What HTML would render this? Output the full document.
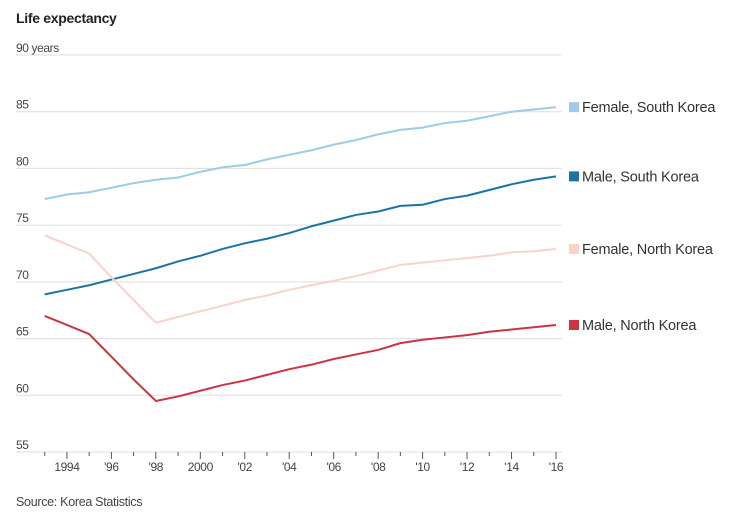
<!DOCTYPE html>
<html><head><meta charset="utf-8"><style>
body{margin:0;background:#fff;font-family:"Liberation Sans",sans-serif;}
svg text{font-family:"Liberation Sans",sans-serif;}
</style></head><body>
<svg id="chart" width="729" height="518" viewBox="0 0 729 518">
<text x="16" y="23" font-size="14" font-weight="bold" fill="#222" letter-spacing="-0.3">Life expectancy</text>
<g id="grid"></g><g id="xaxis"></g><g id="lines"></g><g id="legend"></g>
<text x="16" y="506" font-size="12.5" fill="#444" letter-spacing="-0.3">Source: Korea Statistics</text>
</svg>
<script>
const years=[1993,1994,1995,1996,1997,1998,1999,2000,2001,2002,2003,2004,2005,2006,2007,2008,2009,2010,2011,2012,2013,2014,2015,2016];
const femaleSouth=[77.3,77.7,77.9,78.3,78.7,79.0,79.2,79.7,80.1,80.3,80.8,81.2,81.6,82.1,82.5,83.0,83.4,83.6,84.0,84.2,84.6,85.0,85.2,85.4];
const maleSouth=[68.9,69.3,69.7,70.2,70.7,71.2,71.8,72.3,72.9,73.4,73.8,74.3,74.9,75.4,75.9,76.2,76.7,76.8,77.3,77.6,78.1,78.6,79.0,79.3];
const femaleNorth=[74.1,73.3,72.5,70.4,68.4,66.4,66.9,67.4,67.9,68.4,68.8,69.3,69.7,70.1,70.5,71.0,71.5,71.7,71.9,72.1,72.3,72.6,72.7,72.9];
const maleNorth=[67.0,66.2,65.4,63.4,61.4,59.5,59.9,60.4,60.9,61.3,61.8,62.3,62.7,63.2,63.6,64.0,64.6,64.9,65.1,65.3,65.6,65.8,66.0,66.2];
const yTicks=[55,60,65,70,75,80,85,90];
const yTickLabels=["55","60","65","70","75","80","85","90 years"];
const xTickYears=[1994,1996,1998,2000,2002,2004,2006,2008,2010,2012,2014,2016];
const xTickLabels=["1994","'96","'98","2000","'02","'04","'06","'08","'10","'12","'14","'16"];
const seriesNames=["Female, South Korea","Male, South Korea","Female, North Korea","Male, North Korea"];
const seriesColors=["#9dcbe8","#1a74a8","#f7d3c9","#cb3440"];
const seriesData=[femaleSouth,maleSouth,femaleNorth,maleNorth];
const seriesKeys=["female-south-korea","male-south-korea","female-north-korea","male-north-korea"];

const NS="http://www.w3.org/2000/svg";
const x=v=>44.7+(v-1993)*22.23;
const y=v=>55+(90-v)*11.343;
function mk(tag,parent,attrs){const e=document.createElementNS(NS,tag);for(const k in attrs)e.setAttribute(k,attrs[k]);parent.appendChild(e);return e;}
const grid=document.getElementById('grid');
yTicks.forEach((t,i)=>{
  const l=mk('line',grid,{x1:16,x2:562,y1:y(t),y2:y(t),stroke:'#ddd','stroke-width':1});
  
  
  const tx=mk('text',grid,{x:16,y:y(t)-3,'font-size':12,fill:'#444','letter-spacing':'-0.4'});
  tx.textContent=yTickLabels[i];
  
  
});
const xa=document.getElementById('xaxis');
years.forEach(yr=>{
  const major=xTickYears.includes(yr);
  const tk=mk('line',xa,{x1:x(yr),x2:x(yr),y1:y(55),y2:y(55)+(major?7:4),stroke:'#555','stroke-width':1});
  
  
});
xTickYears.forEach((yr,i)=>{
  const tx=mk('text',xa,{x:x(yr),y:471,'font-size':12,fill:'#444','text-anchor':'middle','letter-spacing':'-0.4'});
  tx.textContent=xTickLabels[i];
  
  
});
const lines=document.getElementById('lines');
const leg=document.getElementById('legend');
seriesData.forEach((d,i)=>{
  const p=mk('polyline',lines,{points:d.map((v,j)=>x(years[j])+','+y(v)).join(' '),fill:'none',stroke:seriesColors[i],'stroke-width':2,'stroke-linejoin':'round'});
  
  
  const last=d[d.length-1];
  const sw=mk('rect',leg,{x:569,y:y(last)-5,width:10,height:10,fill:seriesColors[i]});
  
  
  const tx=mk('text',leg,{x:582,y:y(last)+5,'font-size':14.5,fill:'#333','letter-spacing':'-0.2'});
  tx.textContent=seriesNames[i];
  
  
});
</script>
</body></html>
